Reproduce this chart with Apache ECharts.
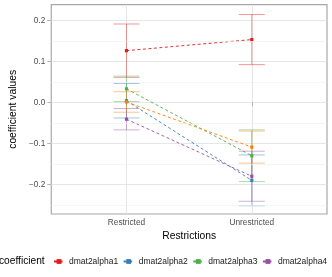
<!DOCTYPE html>
<html><head><meta charset="utf-8">
<script src="https://cdn.jsdelivr.net/npm/echarts@6/dist/echarts.min.js"></script>
<style>html,body{margin:0;padding:0;background:#fff}#c{width:332px;height:277px}</style>
</head><body><div id="c"></div>
<script>
const categories = ['Restricted', 'Unrestricted'];
const coefNames = ['dmat2alpha1', 'dmat2alpha2', 'dmat2alpha3', 'dmat2alpha4', 'dmat2alpha5'];
const estRestricted = [0.126, 0.004, 0.033, -0.041, 0.001];
const estUnrestricted = [0.153, -0.190, -0.130, -0.180, -0.109];
const errRestricted = [0.065, 0.042, 0.031, 0.026, 0.025];
const errUnrestricted = [0.061, 0.062, 0.063, 0.061, 0.039];
const yTicks = [-0.2, -0.1, 0, 0.1, 0.2];
const yMinorBreaks = [-0.25, -0.15, -0.05, 0.05, 0.15];
const colors = ['#E41A1C', '#377EB8', '#4DAF4A', '#984EA3', '#FF7F00'];

const chart = echarts.init(document.getElementById('c'), null, {renderer: 'canvas'});
const xPos = categories.map((c, i) => i + 1);
const FONT = 'Liberation Sans, Arial, sans-serif';

function hexA(hex, a) {
  const n = parseInt(hex.slice(1), 16);
  return 'rgba(' + ((n >> 16) & 255) + ',' + ((n >> 8) & 255) + ',' + (n & 255) + ',' + a + ')';
}

const series = [];
series.push({
  type: 'line', name: 'minorgrid', data: [], silent: true, z: 0,
  markLine: {
    silent: true, symbol: 'none', label: {show: false},
    lineStyle: {color: '#efefef', width: 0.6, type: 'solid'},
    data: yMinorBreaks.map(v => ({yAxis: v}))
  }
});
coefNames.forEach((name, k) => {
  const ebData = [
    [xPos[0], estRestricted[k] - errRestricted[k], estRestricted[k] + errRestricted[k]],
    [xPos[1], estUnrestricted[k] - errUnrestricted[k], estUnrestricted[k] + errUnrestricted[k]]
  ];
  series.push({
    type: 'custom', name: 'eb_' + name, z: 2, silent: true,
    data: ebData,
    renderItem: function (params, api) {
      const x = api.value(0);
      const lo = api.coord([x, api.value(1)]);
      const hi = api.coord([x, api.value(2)]);
      const hw = 13;
      const st = {stroke: hexA(colors[k], 0.45), lineWidth: 1, fill: null};
      return {type: 'group', children: [
        {type: 'line', shape: {x1: lo[0], y1: lo[1], x2: hi[0], y2: hi[1]}, style: st},
        {type: 'line', shape: {x1: lo[0] - hw, y1: lo[1], x2: lo[0] + hw, y2: lo[1]}, style: st},
        {type: 'line', shape: {x1: hi[0] - hw, y1: hi[1], x2: hi[0] + hw, y2: hi[1]}, style: st}
      ]};
    }
  });
});
coefNames.forEach((name, k) => {
  series.push({
    type: 'line', name: name, z: 3,
    data: [[xPos[0], estRestricted[k]], [xPos[1], estUnrestricted[k]]],
    symbol: 'rect', symbolSize: 3.2, showSymbol: true,
    color: colors[k],
    itemStyle: {color: colors[k]},
    lineStyle: {color: colors[k], width: 0.9, type: [3, 2.5]},
    emphasis: {disabled: true},
    animation: false
  });
});

chart.setOption({
  animation: false,
  backgroundColor: '#fff',
  title: {
    text: 'coefficient', left: -1, top: 255.5, padding: 0,
    textStyle: {fontFamily: FONT, fontSize: 10.2, fontWeight: 'normal', color: '#000', lineHeight: 11}
  },
  legend: {
    data: coefNames, left: 53, top: 257, width: 900, orient: 'horizontal',
    itemWidth: 10, itemHeight: 6, itemGap: 4.5,
    textStyle: {fontFamily: FONT, fontSize: 8.5, color: '#1a1a1a', width: 51, padding: 0},
    padding: 0
  },
  grid: {
    left: 39, right: 5, top: 4.7, bottom: 63,
    show: true, borderColor: '#a8a8a8', borderWidth: 1.2, backgroundColor: 'transparent'
  },
  xAxis: {
    type: 'value', min: 0.4, max: 2.6,
    name: 'Restrictions', nameLocation: 'middle', nameGap: 15,
    nameTextStyle: {fontFamily: FONT, fontSize: 10.3, color: '#000'},
    axisLine: {show: false},
    axisTick: {show: true, customValues: xPos, length: 4, lineStyle: {color: '#b3b3b3', width: 1}},
    axisLabel: {
      customValues: xPos, margin: 4.5,
      fontFamily: FONT, fontSize: 8.3, color: '#4d4d4d',
      formatter: v => categories[Math.round(v) - 1] || ''
    },
    splitLine: {show: true, lineStyle: {color: '#e3e3e3', width: 0.9}}
  },
  yAxis: {
    type: 'value', min: -0.272, max: 0.238,
    name: 'coefficient values', nameLocation: 'middle', nameGap: 26,
    nameTextStyle: {fontFamily: FONT, fontSize: 10.3, color: '#000'},
    axisLine: {show: false},
    axisTick: {show: true, customValues: yTicks, length: 4, lineStyle: {color: '#b3b3b3', width: 1}},
    axisLabel: {
      customValues: yTicks, margin: 6,
      fontFamily: FONT, fontSize: 8.3, color: '#4d4d4d',
      formatter: v => (v < 0 ? '\u2212' : '') + Math.abs(v).toFixed(1)
    },
    splitLine: {show: true, lineStyle: {color: '#e3e3e3', width: 0.9}}
  },
  series: series
});
</script></body></html>
